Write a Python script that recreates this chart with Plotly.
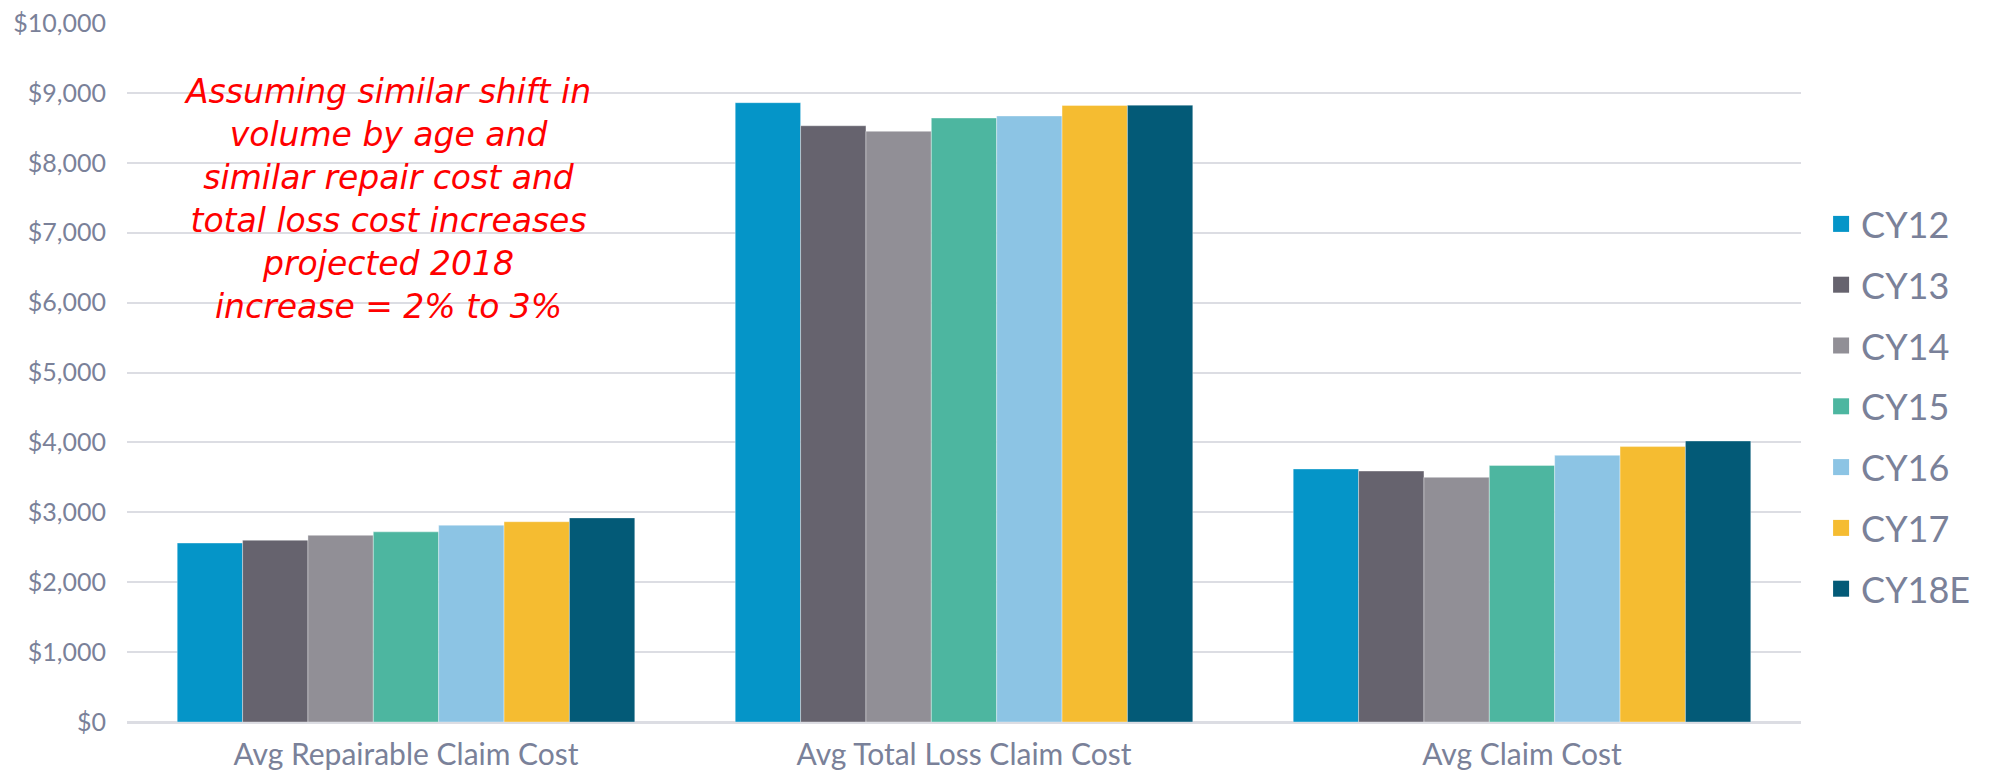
import plotly.graph_objects as go

categories = ["Avg Repairable Claim Cost", "Avg Total Loss Claim Cost", "Avg Claim Cost"]
years = ["CY12", "CY13", "CY14", "CY15", "CY16", "CY17", "CY18E"]

cy12 = [2560, 8860, 3620]
cy13 = [2600, 8530, 3590]
cy14 = [2670, 8450, 3500]
cy15 = [2720, 8640, 3670]
cy16 = [2815, 8670, 3815]
cy17 = [2865, 8820, 3940]
cy18e = [2920, 8825, 4020]

series = [cy12, cy13, cy14, cy15, cy16, cy17, cy18e]
colors = ["#0595C8", "#66636E", "#918F96", "#4DB6A0", "#8CC4E4", "#F5BC31", "#035A77"]

note_lines = [
    "Assuming similar shift in",
    "volume by age and",
    "similar repair cost and",
    "total loss cost increases",
    "projected 2018",
    "increase = 2% to 3%",
]

font_family = "Lato, 'Noto Sans', sans-serif"
text_color = "#7A8199"
grid_color = "#DCDDE3"

W, H = 1992, 772
M_L, M_R, M_T, M_B = 127, 191, 23, 50
plot_w = W - M_L - M_R
plot_h = H - M_T - M_B

fig = go.Figure()
for name, vals, col in zip(years, series, colors):
    fig.add_trace(go.Bar(
        x=categories, y=vals, name=name, legendgroup=name, showlegend=False,
        marker=dict(color=col, line=dict(color="rgba(255,255,255,0.6)", width=0.6)),
    ))
    # square swatch for the legend entry
    fig.add_trace(go.Scatter(
        x=[categories[0]], y=[None], name=name, legendgroup=name,
        mode="markers", marker=dict(symbol="square", size=16, color=col),
        hoverinfo="skip",
    ))

fig.update_layout(
    width=W, height=H,
    margin=dict(l=M_L, r=M_R, t=M_T, b=M_B),
    paper_bgcolor="white", plot_bgcolor="white",
    barmode="group", bargap=0.18, bargroupgap=0,
    font=dict(family=font_family, color=text_color),
    showlegend=True,
    legend=dict(
        x=1.012, xanchor="left", y=(H - M_B - 194) / plot_h, yanchor="top",
        font=dict(size=36, color=text_color, family=font_family),
        tracegroupgap=11, itemwidth=30, bgcolor="rgba(0,0,0,0)",
    ),
    xaxis=dict(
        automargin=False,
        showgrid=False, showline=True, linecolor=grid_color, linewidth=1.5,
        ticks="", tickfont=dict(size=30, color=text_color, family=font_family),
        ticklabelstandoff=5,
    ),
    yaxis=dict(
        automargin=False,
        range=[0, 10000], tickmode="linear", dtick=1000,
        tickprefix="$", tickformat=",d",
        showgrid=True, gridcolor=grid_color, gridwidth=1.5,
        zeroline=True, zerolinecolor=grid_color, zerolinewidth=1.5,
        showline=False, ticks="",
        tickfont=dict(size=25, color=text_color, family=font_family),
        ticklabelstandoff=20,
    ),
    annotations=[dict(
        text="<br>".join(note_lines), xref="paper", yref="paper",
        x=(387 - M_L) / plot_w, y=(H - M_B - 199) / plot_h,
        xanchor="center", yanchor="middle", showarrow=False, align="center",
        font=dict(size=33, color="#FF0000", family="'DejaVu Sans', sans-serif",
                  style="italic"),
    )],
)

fig.write_html("out.html")
